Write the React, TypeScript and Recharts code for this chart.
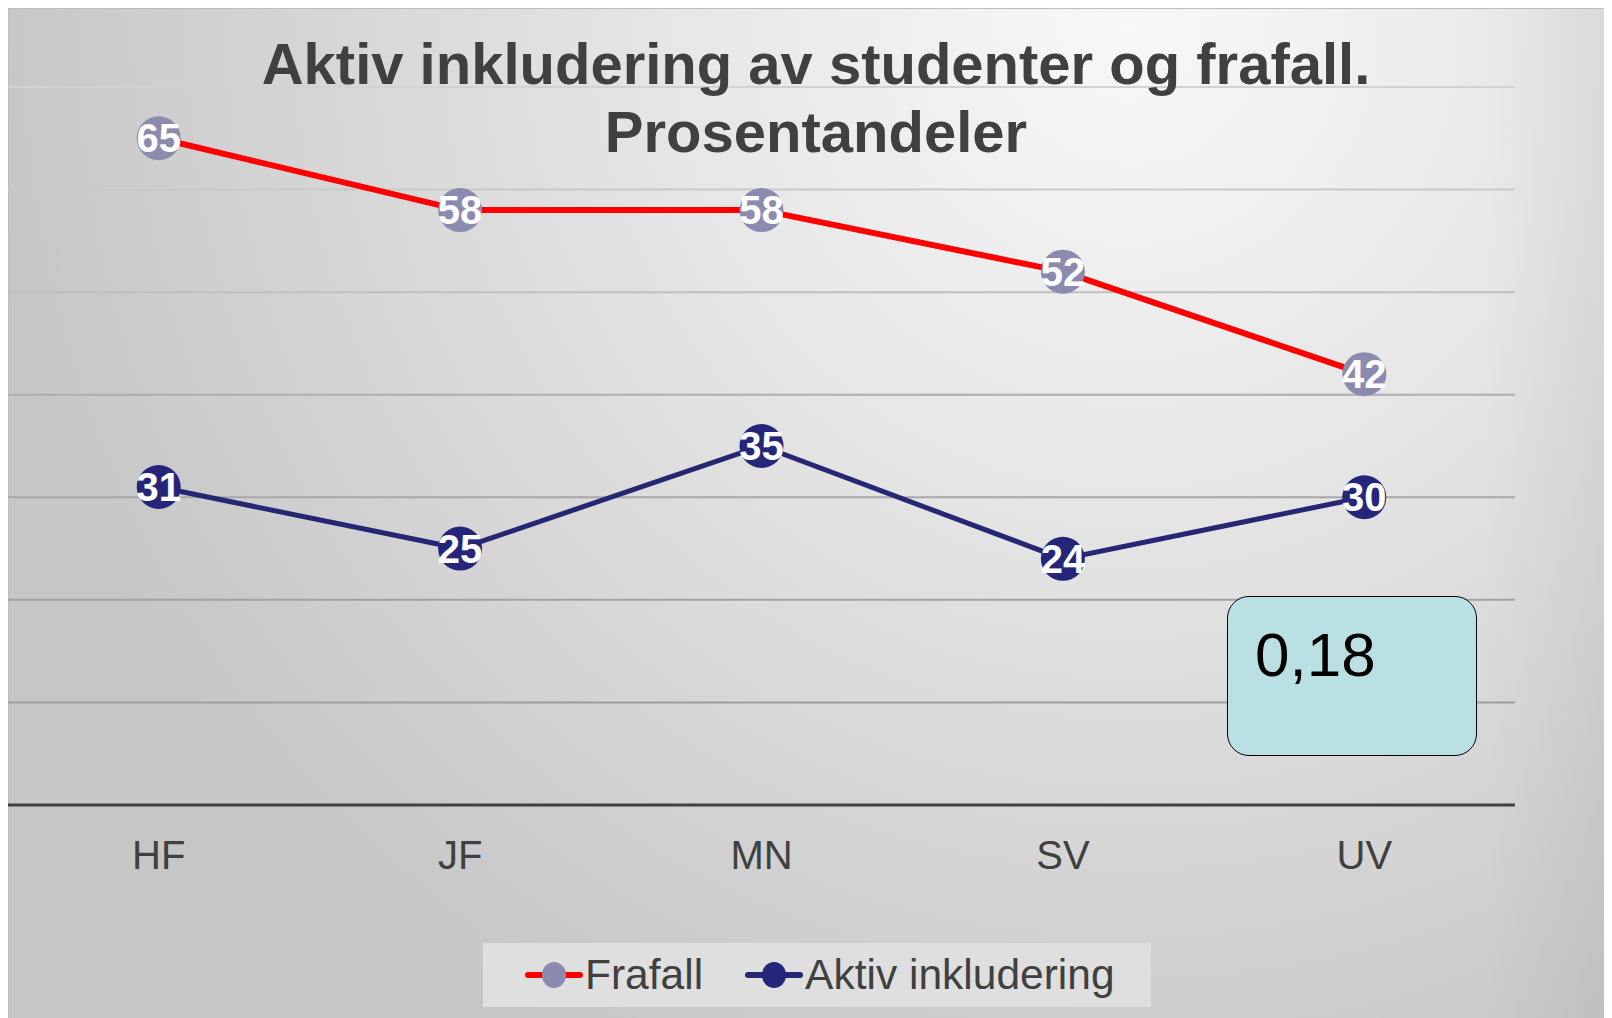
import React from 'react';
import { CartesianGrid, LabelList, Legend, Line, LineChart, XAxis, YAxis } from 'recharts';

document.documentElement.style.overflow = 'hidden';

const categories = ['HF', 'JF', 'MN', 'SV', 'UV'];
const frafall = [65, 58, 58, 52, 42];
const aktivInkludering = [31, 25, 35, 24, 30];
const yTicks = [0, 10, 20, 30, 40, 50, 60, 70];
const legendOrder = ['frafall', 'aktiv'];

const data = categories.map((c, i) => ({
  cat: c,
  frafall: frafall[i],
  aktiv: aktivInkludering[i]
}));

const FONT = '"Liberation Sans", Arial, sans-serif';
const dotColor: Record<string, string> = { frafall: '#8B8BB0', aktiv: '#25267A' };

function ChartLegend({ payload }: any) {
  const items = [...(payload || [])].sort(
    (a: any, b: any) => legendOrder.indexOf(a.dataKey) - legendOrder.indexOf(b.dataKey)
  );
  return (
    <div
      style={{
        display: 'flex',
        alignItems: 'center',
        height: 64,
        background: '#dfdfdf',
        paddingLeft: 42,
        boxSizing: 'border-box',
        fontFamily: FONT
      }}
    >
      {items.map((p: any, i: number) => (
        <div key={p.value} style={{ display: 'flex', alignItems: 'center', marginLeft: i ? 42 : 0 }}>
          <svg width={58} height={30}>
            <line x1={3} y1={15} x2={55} y2={15} stroke={p.color} strokeWidth={6} strokeLinecap="round" />
            <ellipse cx={29} cy={15} rx={12} ry={13} fill={dotColor[p.dataKey]} />
          </svg>
          <span style={{ fontSize: 42.5, lineHeight: '42px', color: '#404040', marginLeft: 2 }}>{p.value}</span>
        </div>
      ))}
    </div>
  );
}

export default function App() {
  return (
    <div
      style={{
        position: 'relative',
        width: 1604,
        height: 1010,
        fontFamily: FONT,
        boxShadow: 'inset 1px 1px 0 #bdbdbd',
        background:
          'linear-gradient(to right, rgba(0,0,0,0) 92%, rgba(0,0,0,0.05) 100%), radial-gradient(ellipse 72% 115% at 70% 2%, #f8f8f8 0%, #e6e6e6 40%, #c6c6c6 100%)'
      }}
    >
      <LineChart width={1604} height={1010} data={data} margin={{ top: 79, right: 97, left: 0, bottom: 153 }}>
        <defs>
          <linearGradient id="gridFade" gradientUnits="userSpaceOnUse" x1="0" y1="79" x2="0" y2="797">
            <stop offset="0%" stopColor="#d2d2d2" />
            <stop offset="30%" stopColor="#bfbfbf" />
            <stop offset="45%" stopColor="#ababab" />
            <stop offset="100%" stopColor="#999999" />
          </linearGradient>
        </defs>
        <CartesianGrid vertical={false} stroke="url(#gridFade)" strokeWidth={2} />
        <XAxis
          dataKey="cat"
          height={60}
          padding={{ left: 150.7, right: 150.7 }}
          axisLine={{ stroke: '#404040', strokeWidth: 3 }}
          tickLine={false}
          tickSize={0}
          tickMargin={36}
          tick={{ fontSize: 40, fill: '#404040', fontFamily: FONT }}
        />
        <YAxis hide domain={[0, 70]} ticks={yTicks} />
        <Legend
          layout="horizontal"
          verticalAlign="middle"
          align="center"
          content={<ChartLegend />}
          wrapperStyle={{ left: 475, top: 935, width: 668, height: 64 }}
        />
        <Line
          dataKey="frafall"
          name="Frafall"
          stroke="#FF0000"
          strokeWidth={6}
          dot={{ r: 22, fill: dotColor.frafall, stroke: 'none', strokeWidth: 0 }}
          activeDot={false}
          isAnimationActive={false}
        >
          <LabelList dataKey="frafall" position="center" fill="#ffffff" fontSize={40} fontWeight={700} fontFamily={FONT} />
        </Line>
        <Line
          dataKey="aktiv"
          name="Aktiv inkludering"
          stroke="#262673"
          strokeWidth={5}
          dot={{ r: 22, fill: dotColor.aktiv, stroke: 'none', strokeWidth: 0 }}
          activeDot={false}
          isAnimationActive={false}
        >
          <LabelList dataKey="aktiv" position="center" fill="#ffffff" fontSize={40} fontWeight={700} fontFamily={FONT} />
        </Line>
      </LineChart>
      <div
        style={{
          position: 'absolute',
          left: 12,
          top: 22,
          width: 1592,
          textAlign: 'center',
          fontSize: 58,
          lineHeight: '68px',
          fontWeight: 700,
          color: '#404040'
        }}
      >
        Aktiv inkludering av studenter og frafall.
        <br />
        Prosentandeler
      </div>
      <div
        style={{
          position: 'absolute',
          left: 1219,
          top: 588,
          width: 250,
          height: 160,
          boxSizing: 'border-box',
          border: '1.5px solid #000',
          borderRadius: 22,
          background: '#BAE0E3',
          paddingLeft: 27,
          paddingTop: 27,
          fontSize: 62,
          lineHeight: '62px',
          color: '#000'
        }}
      >
        0,18
      </div>
    </div>
  );
}
